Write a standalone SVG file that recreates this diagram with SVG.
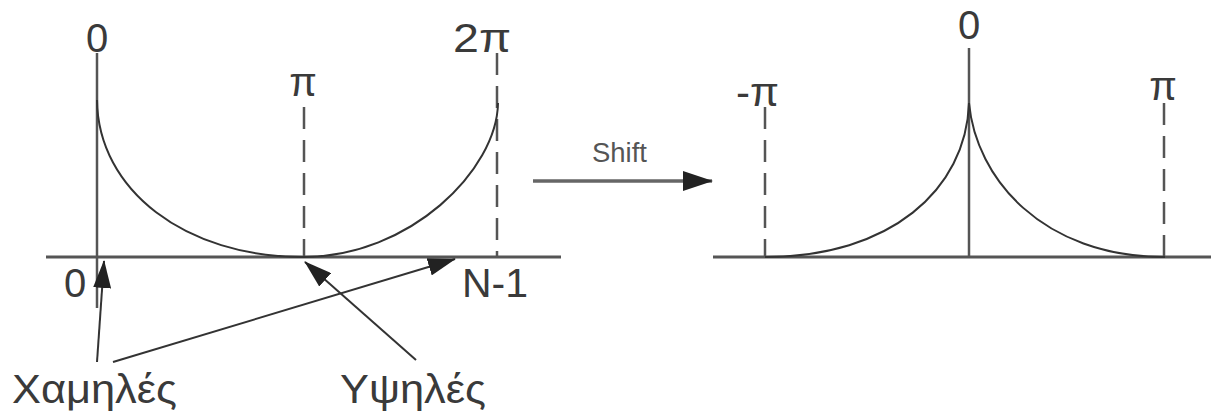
<svg xmlns="http://www.w3.org/2000/svg" width="1211" height="413" viewBox="0 0 1211 413">
<style>
.t{font-family:"Liberation Sans",Arial,sans-serif;fill:#3a3a3a;font-size:40px}
.ax{stroke:#555;stroke-width:3;fill:none}
.v{stroke:#555;stroke-width:2.5;fill:none}
.d{stroke:#555;stroke-width:2.5;fill:none;stroke-dasharray:22 11}
.c{stroke:#333;stroke-width:2;fill:none}
.a{stroke:#333;stroke-width:2;fill:none;marker-end:url(#ah)}
.s{stroke:#666;stroke-width:3.5;fill:none;marker-end:url(#sh)}
</style>
<defs>
<marker id="ah" markerUnits="userSpaceOnUse" viewBox="0 0 28 18" markerWidth="28" markerHeight="18" refX="27" refY="9" orient="auto"><path d="M0,0 L28,9 L0,18 z" fill="#222"/></marker>
<marker id="sh" markerUnits="userSpaceOnUse" viewBox="0 0 30 20" markerWidth="30" markerHeight="20" refX="29" refY="10" orient="auto"><path d="M0,0 L30,10 L0,20 z" fill="#222"/></marker>
</defs>
<rect width="1211" height="413" fill="#fff"/>
<g id="left-plot">
<line class="ax" x1="46" y1="257" x2="561" y2="257"/>
<line class="v" x1="97" y1="53" x2="97" y2="308"/>
<line class="d" x1="304" y1="107" x2="304" y2="257"/>
<line class="d" x1="497" y1="53" x2="497" y2="257"/>
<path class="c" d="M97,100 C98,190 185,257 303,257 C410,257 497,170 498,103"/>
</g>
<g id="left-labels">
<text class="t" x="97" y="52" text-anchor="middle">0</text>
<text class="t" x="453" y="52" textLength="58" lengthAdjust="spacingAndGlyphs">2π</text>
<text class="t" x="303" y="96" text-anchor="middle">π</text>
<text class="t" x="75" y="297" text-anchor="middle">0</text>
<text class="t" x="462" y="297" textLength="66" lengthAdjust="spacingAndGlyphs">N-1</text>
<text class="t" x="12" y="403" textLength="165" lengthAdjust="spacingAndGlyphs">Χαμηλές</text>
<text class="t" x="340" y="403" textLength="146" lengthAdjust="spacingAndGlyphs">Υψηλές</text>
</g>
<g id="right-plot">
<line class="ax" x1="713" y1="257" x2="1211" y2="257"/>
<line class="v" x1="969" y1="48" x2="969" y2="257"/>
<line class="d" x1="765" y1="107" x2="765" y2="257"/>
<line class="d" x1="1164" y1="103" x2="1164" y2="257"/>
<path class="c" d="M969,103 C966,190 890,257 765,257"/>
<path class="c" d="M969,103 C976,178 1042,257 1165,257"/>
</g>
<g id="right-labels">
<text class="t" x="969" y="39" text-anchor="middle" font-size="42">0</text>
<text class="t" x="736" y="106" textLength="43" lengthAdjust="spacingAndGlyphs">-π</text>
<text class="t" x="1163" y="100" text-anchor="middle">π</text>
</g>
<g id="connectors">
<line class="a" x1="97" y1="362" x2="104" y2="261"/>
<line class="a" x1="113" y1="362" x2="455" y2="259"/>
<line class="a" x1="416" y1="360" x2="305" y2="262"/>
<line class="s" x1="533" y1="181" x2="712" y2="181"/>
<text x="592" y="162" textLength="55" lengthAdjust="spacingAndGlyphs" style="font-family:'Liberation Sans',Arial,sans-serif;font-size:27px;fill:#555">Shift</text>
</g>
</svg>
